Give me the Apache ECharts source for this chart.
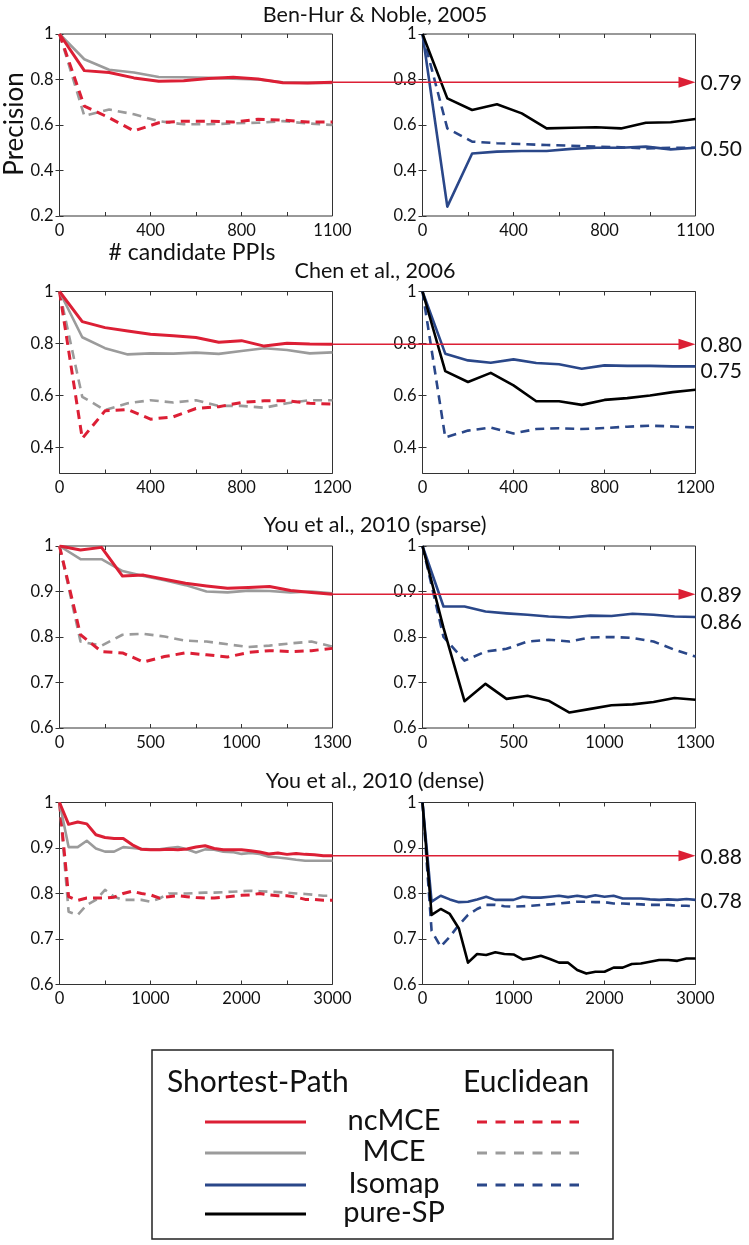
<!DOCTYPE html>
<html><head><meta charset="utf-8">
<script src="https://cdn.jsdelivr.net/npm/echarts@6/dist/echarts.min.js"></script>
<style>html,body{margin:0;padding:0;background:#fff}#c{width:749px;height:1245px}</style>
</head><body><div id="c"></div>
<script>
// ---------- text ----------
const panelTitles = ['Ben-Hur & Noble, 2005', 'Chen et al., 2006', 'You et al., 2010 (sparse)', 'You et al., 2010 (dense)'];
const yAxisName = 'Precision';
const xAxisName = '# candidate PPIs';
const legendHeaders = ['Shortest-Path', 'Euclidean'];
const methodNames = ['ncMCE', 'MCE', 'Isomap', 'pure-SP'];

// ---------- axes ----------
const xMax = [1100, 1200, 1300, 3000];
const xTickLabels = [['0', '400', '800', '1100'], ['0', '400', '800', '1200'], ['0', '500', '1000', '1300'], ['0', '1000', '2000', '3000']];
const yMin = [0.2, 0.3, 0.6, 0.6];
const yTickValues = [[0.2, 0.4, 0.6, 0.8, 1], [0.4, 0.6, 0.8, 1], [0.6, 0.7, 0.8, 0.9, 1], [0.6, 0.7, 0.8, 0.9, 1]];
const yTickLabels = [['0.2', '0.4', '0.6', '0.8', '1'], ['0.4', '0.6', '0.8', '1'], ['0.6', '0.7', '0.8', '0.9', '1'], ['0.6', '0.7', '0.8', '0.9', '1']];

// ---------- x samples ----------
const xBenHur = [0, 100, 200, 300, 400, 500, 600, 700, 800, 900, 1000, 1100];
const xChen = [0, 100, 200, 300, 400, 500, 600, 700, 800, 900, 1000, 1100, 1200];
const xSparse = [0, 100, 200, 300, 400, 500, 600, 700, 800, 900, 1000, 1100, 1200, 1300];
const xDense = [0, 100, 200, 300, 400, 500, 600, 700, 800, 900, 1000, 1100, 1200, 1300, 1400, 1500, 1600, 1700, 1800, 1900, 2000, 2100, 2200, 2300, 2400, 2500, 2600, 2700, 2800, 2900, 3000];

// ---------- Ben-Hur & Noble ----------
const bhNcmceSP = [1.0, 0.839, 0.831, 0.807, 0.792, 0.795, 0.804, 0.81, 0.802, 0.786, 0.785, 0.788];
const bhMceSP = [1.0, 0.889, 0.843, 0.831, 0.811, 0.81, 0.807, 0.804, 0.80, 0.788, 0.785, 0.785];
const bhNcmceEU = [1.0, 0.683, 0.632, 0.574, 0.61, 0.617, 0.617, 0.613, 0.625, 0.622, 0.613, 0.613];
const bhMceEU = [1.0, 0.64, 0.668, 0.647, 0.617, 0.603, 0.603, 0.607, 0.61, 0.617, 0.607, 0.60];
const bhIsoSP = [1.0, 0.241, 0.475, 0.483, 0.486, 0.486, 0.495, 0.50, 0.50, 0.505, 0.493, 0.50];
const bhPureSP = [1.0, 0.717, 0.666, 0.691, 0.651, 0.585, 0.588, 0.59, 0.585, 0.61, 0.612, 0.626];
const bhIsoEU = [1.0, 0.585, 0.527, 0.52, 0.516, 0.512, 0.509, 0.505, 0.502, 0.497, 0.50, 0.50];

// ---------- Chen et al. ----------
const chNcmceSP = [1.0, 0.884, 0.861, 0.848, 0.836, 0.83, 0.823, 0.805, 0.811, 0.79, 0.801, 0.798, 0.797];
const chMceSP = [1.0, 0.824, 0.782, 0.758, 0.762, 0.761, 0.765, 0.76, 0.771, 0.782, 0.775, 0.762, 0.766];
const chNcmceEU = [1.0, 0.435, 0.541, 0.546, 0.509, 0.518, 0.55, 0.557, 0.573, 0.58, 0.58, 0.57, 0.567];
const chMceEU = [1.0, 0.595, 0.544, 0.57, 0.582, 0.573, 0.582, 0.56, 0.56, 0.553, 0.57, 0.582, 0.582];
const chIsoSP = [1.0, 0.761, 0.735, 0.726, 0.739, 0.725, 0.72, 0.703, 0.716, 0.714, 0.714, 0.712, 0.712];
const chPureSP = [1.0, 0.694, 0.652, 0.687, 0.639, 0.578, 0.578, 0.564, 0.583, 0.59, 0.60, 0.613, 0.622];
const chIsoEU = [1.0, 0.439, 0.465, 0.477, 0.454, 0.471, 0.474, 0.471, 0.475, 0.48, 0.484, 0.481, 0.477];

// ---------- You et al. sparse ----------
const ysNcmceSP = [1.0, 0.991, 0.997, 0.934, 0.936, 0.927, 0.918, 0.912, 0.907, 0.909, 0.911, 0.902, 0.898, 0.894];
const ysMceSP = [1.0, 0.971, 0.971, 0.945, 0.934, 0.925, 0.914, 0.90, 0.898, 0.902, 0.901, 0.898, 0.90, 0.896];
const ysNcmceEU = [1.0, 0.805, 0.768, 0.765, 0.745, 0.757, 0.765, 0.761, 0.756, 0.766, 0.77, 0.768, 0.77, 0.775];
const ysMceEU = [1.0, 0.79, 0.781, 0.805, 0.807, 0.801, 0.792, 0.79, 0.784, 0.778, 0.781, 0.786, 0.79, 0.779];
const ysIsoSP = [1.0, 0.867, 0.867, 0.856, 0.852, 0.849, 0.845, 0.843, 0.847, 0.846, 0.851, 0.849, 0.845, 0.844];
const ysPureSP = [1.0, 0.82, 0.659, 0.697, 0.664, 0.671, 0.66, 0.634, 0.642, 0.65, 0.652, 0.657, 0.666, 0.662];
const ysIsoEU = [1.0, 0.8, 0.748, 0.768, 0.774, 0.79, 0.794, 0.79, 0.799, 0.80, 0.798, 0.79, 0.772, 0.757];

// ---------- You et al. dense ----------
const ydNcmceSP = [1.0, 0.952, 0.957, 0.953, 0.929, 0.923, 0.921, 0.921, 0.907, 0.897, 0.896, 0.896, 0.897, 0.896, 0.898, 0.902, 0.905, 0.899, 0.896, 0.896, 0.896, 0.894, 0.891, 0.887, 0.889, 0.886, 0.888, 0.886, 0.885, 0.883, 0.883];
const ydMceSP = [1.0, 0.902, 0.902, 0.916, 0.899, 0.892, 0.892, 0.902, 0.90, 0.898, 0.897, 0.897, 0.90, 0.902, 0.897, 0.89, 0.897, 0.896, 0.892, 0.891, 0.887, 0.889, 0.887, 0.881, 0.879, 0.877, 0.874, 0.872, 0.872, 0.872, 0.872];
const ydNcmceEU = [1.0, 0.793, 0.785, 0.79, 0.79, 0.79, 0.792, 0.80, 0.805, 0.80, 0.797, 0.79, 0.793, 0.795, 0.793, 0.791, 0.79, 0.79, 0.792, 0.794, 0.796, 0.797, 0.80, 0.797, 0.795, 0.795, 0.792, 0.787, 0.787, 0.785, 0.785];
const ydMceEU = [1.0, 0.76, 0.753, 0.775, 0.786, 0.808, 0.793, 0.786, 0.786, 0.786, 0.782, 0.789, 0.80, 0.80, 0.80, 0.801, 0.802, 0.802, 0.803, 0.804, 0.805, 0.806, 0.805, 0.804, 0.803, 0.802, 0.80, 0.799, 0.797, 0.795, 0.795];
const ydIsoSP = [1.0, 0.782, 0.795, 0.787, 0.781, 0.782, 0.787, 0.793, 0.786, 0.786, 0.786, 0.793, 0.791, 0.791, 0.793, 0.795, 0.792, 0.795, 0.792, 0.796, 0.793, 0.795, 0.789, 0.789, 0.789, 0.787, 0.786, 0.787, 0.786, 0.788, 0.786];
const ydPureSP = [1.0, 0.753, 0.766, 0.755, 0.723, 0.648, 0.667, 0.665, 0.671, 0.667, 0.666, 0.655, 0.658, 0.663, 0.656, 0.648, 0.648, 0.632, 0.624, 0.628, 0.628, 0.637, 0.637, 0.645, 0.646, 0.65, 0.654, 0.654, 0.652, 0.657, 0.657];
const ydIsoEU = [1.0, 0.718, 0.683, 0.705, 0.731, 0.753, 0.766, 0.775, 0.775, 0.772, 0.771, 0.772, 0.773, 0.775, 0.776, 0.778, 0.78, 0.782, 0.782, 0.781, 0.781, 0.778, 0.778, 0.777, 0.776, 0.775, 0.775, 0.775, 0.773, 0.773, 0.772];

// ---------- annotations (value labels at the right) ----------
const annotTexts = [['0.79', '0.50'], ['0.80', '0.75'], ['0.89', '0.86'], ['0.88', '0.78']];

// ---------- build ----------
const COL = { ncMCE: '#dc1f35', MCE: '#9b9b9b', Isomap: '#2a4789', pureSP: '#000000' };
const FONT = 'Lato';
const rows = [
  { x: xBenHur, left: [[bhMceEU, 'MCE', 1], [bhNcmceEU, 'ncMCE', 1], [bhMceSP, 'MCE', 0], [bhNcmceSP, 'ncMCE', 0]], right: [[bhIsoEU, 'Isomap', 1], [bhIsoSP, 'Isomap', 0], [bhPureSP, 'pureSP', 0]], arrow: bhNcmceSP, second: bhIsoSP },
  { x: xChen, left: [[chMceEU, 'MCE', 1], [chNcmceEU, 'ncMCE', 1], [chMceSP, 'MCE', 0], [chNcmceSP, 'ncMCE', 0]], right: [[chIsoEU, 'Isomap', 1], [chIsoSP, 'Isomap', 0], [chPureSP, 'pureSP', 0]], arrow: chNcmceSP, second: chIsoSP },
  { x: xSparse, left: [[ysMceEU, 'MCE', 1], [ysNcmceEU, 'ncMCE', 1], [ysMceSP, 'MCE', 0], [ysNcmceSP, 'ncMCE', 0]], right: [[ysIsoEU, 'Isomap', 1], [ysIsoSP, 'Isomap', 0], [ysPureSP, 'pureSP', 0]], arrow: ysNcmceSP, second: ysIsoSP },
  { x: xDense, left: [[ydMceEU, 'MCE', 1], [ydNcmceEU, 'ncMCE', 1], [ydMceSP, 'MCE', 0], [ydNcmceSP, 'ncMCE', 0]], right: [[ydIsoEU, 'Isomap', 1], [ydIsoSP, 'Isomap', 0], [ydPureSP, 'pureSP', 0]], arrow: ydNcmceSP, second: ydIsoSP }
];

const rowTop = [34, 291.5, 546, 802.5];
const rowH = 182;
const colLeft = [59.5, 422.5];
const colW = 273;
const titleY = [15, 271, 525, 781.5];

const grids = [], xAxes = [], yAxes = [], series = [];
const AX = '#333';
function lookup(vals, labels, v) {
  for (let i = 0; i < vals.length; i++) if (Math.abs(vals[i] - v) < 1e-6 * Math.max(1, Math.abs(vals[i]))) return labels[i];
  return '';
}
const gridAxis = []; // [xIdx, yIdx]
rows.forEach((row, r) => {
  const xm = xMax[r];
  const xTicks = [0, 1, 2, 3, 4, 5, 6].map(k => k * xm / 6);
  const xLabVals = [0, 1, 2, 3].map(k => k * xm / 3);
  const yTicks = yTickValues[r];
  [0, 1].forEach(c => {
    const g = grids.length;
    grids.push({ left: colLeft[c], top: rowTop[r], width: colW, height: rowH, show: true, borderColor: AX, borderWidth: 1, backgroundColor: 'transparent' });
    const base = { type: 'value', gridIndex: g, min: 0, max: xm, splitLine: { show: false }, axisLine: { show: false } };
    const xi = xAxes.length;
    xAxes.push(Object.assign({}, base, {
      position: 'bottom',
      axisTick: { show: true, inside: true, length: 4, customValues: xTicks, lineStyle: { color: AX, width: 1 } },
      axisLabel: { show: true, customValues: xLabVals, margin: 6, fontSize: 16.5, fontFamily: FONT, color: '#111',
        formatter: v => lookup(xLabVals, xTickLabels[r], v) }
    }));
    xAxes.push(Object.assign({}, base, {
      position: 'top',
      axisTick: { show: true, inside: true, length: 4, customValues: xTicks, lineStyle: { color: AX, width: 1 } },
      axisLabel: { show: false }
    }));
    const ybase = { type: 'value', gridIndex: g, min: yMin[r], max: 1, splitLine: { show: false }, axisLine: { show: false } };
    const yi = yAxes.length;
    yAxes.push(Object.assign({}, ybase, {
      position: 'left',
      axisTick: { show: true, inside: true, length: 4, customValues: yTicks, lineStyle: { color: AX, width: 1 } },
      axisLabel: { show: true, customValues: yTicks, margin: 6, fontSize: 16.5, fontFamily: FONT, color: '#111',
        formatter: v => lookup(yTicks, yTickLabels[r], v) }
    }));
    yAxes.push(Object.assign({}, ybase, {
      position: 'right',
      axisTick: { show: true, inside: true, length: 4, customValues: yTicks, lineStyle: { color: AX, width: 1 } },
      axisLabel: { show: false }
    }));
    gridAxis.push([xi, yi]);
    const list = c === 0 ? row.left : row.right;
    list.forEach(([vals, m, dashed]) => {
      series.push({
        type: 'line', xAxisIndex: xi, yAxisIndex: yi, showSymbol: false, symbol: 'none', silent: true,
        data: row.x.map((xv, i) => [xv, vals[i]]),
        lineStyle: { color: COL[m], width: m === 'ncMCE' ? 3 : 2.6, type: dashed ? [9, 6] : 'solid', join: 'round', cap: 'butt' },
        z: dashed ? 2 : 3
      });
    });
  });
});

const chart = echarts.init(document.getElementById('c'), null, { renderer: 'canvas' });
chart.setOption({ animation: false, backgroundColor: '#fff', grid: grids, xAxis: xAxes, yAxis: yAxes, series: series });

// ---------- graphic overlay ----------
const gfx = [];
panelTitles.forEach((t, r) => {
  gfx.push({ type: 'text', x: 375, y: titleY[r], style: { text: t, fontSize: 21.5, fontFamily: FONT, fill: '#111', align: 'center', verticalAlign: 'middle' } });
});
gfx.push({ type: 'text', x: 15, y: 124, rotation: Math.PI / 2, style: { text: yAxisName, fontSize: 26, fontFamily: FONT, fill: '#111', align: 'center', verticalAlign: 'middle' } });
gfx.push({ type: 'text', x: 192, y: 253, style: { text: xAxisName, fontSize: 23, fontFamily: FONT, fill: '#111', align: 'center', verticalAlign: 'middle' } });

rows.forEach((row, r) => {
  const gL = gridAxis[2 * r], gR = gridAxis[2 * r + 1];
  const n = row.x.length;
  const pL = chart.convertToPixel({ xAxisIndex: gL[0], yAxisIndex: gL[1] }, [row.x[n - 1], row.arrow[n - 1]]);
  const pR = chart.convertToPixel({ xAxisIndex: gR[0], yAxisIndex: gR[1] }, [row.x[n - 1], row.arrow[n - 1]]);
  const p2 = chart.convertToPixel({ xAxisIndex: gR[0], yAxisIndex: gR[1] }, [row.x[n - 1], row.second[n - 1]]);
  const y = pL[1];
  const y2 = (p2[1] - y < 30) ? p2[1] + 4 : p2[1];
  const head = 17;
  gfx.push({ type: 'line', shape: { x1: pL[0], y1: y, x2: pR[0] - head + 2, y2: y }, style: { stroke: COL.ncMCE, lineWidth: 1.4 }, z: 50 });
  gfx.push({ type: 'polygon', shape: { points: [[pR[0] - head, y - 5.5], [pR[0], y], [pR[0] - head, y + 5.5]] }, style: { fill: COL.ncMCE }, z: 50 });
  gfx.push({ type: 'text', x: pR[0] + 5, y: y + 1, style: { text: annotTexts[r][0], fontSize: 21, fontFamily: FONT, fill: '#111', align: 'left', verticalAlign: 'middle' } });
  gfx.push({ type: 'text', x: pR[0] + 5, y: y2 + 1, style: { text: annotTexts[r][1], fontSize: 21, fontFamily: FONT, fill: '#111', align: 'left', verticalAlign: 'middle' } });
});

// legend
gfx.push({ type: 'rect', shape: { x: 152, y: 1050, width: 461, height: 189 }, style: { fill: '#fff', stroke: '#222', lineWidth: 1.5 } });
gfx.push({ type: 'text', x: 167, y: 1082, style: { text: legendHeaders[0], fontSize: 30, fontFamily: FONT, fill: '#111', align: 'left', verticalAlign: 'middle' } });
gfx.push({ type: 'text', x: 463, y: 1082, style: { text: legendHeaders[1], fontSize: 30, fontFamily: FONT, fill: '#111', align: 'left', verticalAlign: 'middle' } });
const legY = [1122, 1153, 1185, 1214];
const legCol = [COL.ncMCE, COL.MCE, COL.Isomap, COL.pureSP];
methodNames.forEach((m, i) => {
  gfx.push({ type: 'line', shape: { x1: 205, y1: legY[i], x2: 306, y2: legY[i] }, style: { stroke: legCol[i], lineWidth: 3 } });
  gfx.push({ type: 'text', x: 394, y: legY[i] - 1, style: { text: m, fontSize: 29, fontFamily: FONT, fill: '#111', align: 'center', verticalAlign: 'middle' } });
  if (i < 3) gfx.push({ type: 'line', shape: { x1: 477, y1: legY[i], x2: 579, y2: legY[i] }, style: { stroke: legCol[i], lineWidth: 3, lineDash: [10, 8.5] } });
});
chart.setOption({ graphic: gfx });
</script></body></html>
